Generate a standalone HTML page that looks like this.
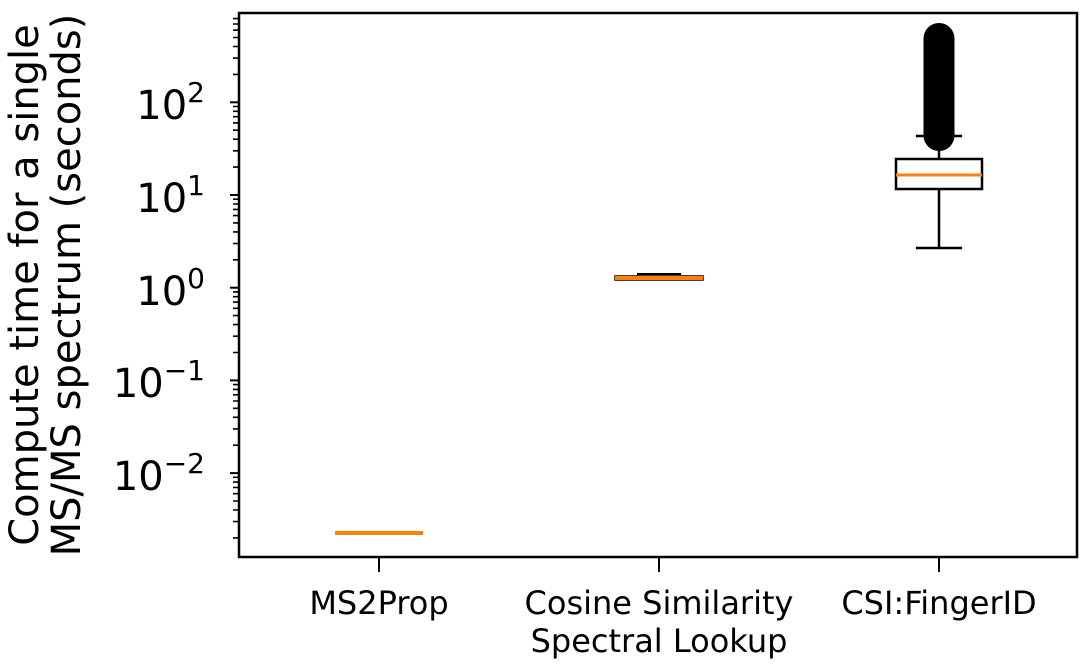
<!DOCTYPE html>
<html><head><meta charset="utf-8"><style>
body{margin:0;background:#fff}
text{font-family:"DejaVu Sans","Liberation Sans",sans-serif;fill:#000}
</style></head><body>
<svg width="1082" height="662" viewBox="0 0 1082 662" xmlns="http://www.w3.org/2000/svg">
<path stroke="#000" stroke-width="1.6" d="
M233 537.9H239M233 521.6H239M233 510H239M233 501H239M233 493.7H239M233 487.5H239M233 482.1H239M233 477.3H239
M233 445.2H239M233 428.9H239M233 417.3H239M233 408.3H239M233 401H239M233 394.8H239M233 389.4H239M233 384.6H239
M233 352.5H239M233 336.2H239M233 324.6H239M233 315.6H239M233 308.3H239M233 302.1H239M233 296.7H239M233 291.9H239
M233 259.8H239M233 243.5H239M233 231.9H239M233 222.9H239M233 215.6H239M233 209.4H239M233 204H239M233 199.2H239
M233 167.1H239M233 150.8H239M233 139.2H239M233 130.2H239M233 122.9H239M233 116.7H239M233 111.3H239M233 106.5H239
M233 74.4H239M233 58.1H239M233 46.5H239M233 37.5H239M233 30.2H239M233 24H239M233 18.6H239"/>
<g stroke="#000" stroke-width="2">
<line x1="230" y1="102.3" x2="239" y2="102.3"/>
<line x1="230" y1="195" x2="239" y2="195"/>
<line x1="230" y1="287.7" x2="239" y2="287.7"/>
<line x1="230" y1="380.4" x2="239" y2="380.4"/>
<line x1="230" y1="473.1" x2="239" y2="473.1"/>
<line x1="379" y1="557" x2="379" y2="572"/>
<line x1="659" y1="557" x2="659" y2="572"/>
<line x1="939" y1="557" x2="939" y2="572"/>
</g>
<g font-size="40" text-anchor="end">
<text x="205" y="119">10<tspan font-size="28" dy="-17">2</tspan></text>
<text x="205" y="212">10<tspan font-size="28" dy="-17">1</tspan></text>
<text x="205" y="305">10<tspan font-size="28" dy="-17">0</tspan></text>
<text x="205" y="397">10<tspan font-size="28" dy="-17">−1</tspan></text>
<text x="205" y="490">10<tspan font-size="28" dy="-17">−2</tspan></text>
</g>
<g font-size="32" text-anchor="middle">
<text x="379" y="614">MS2Prop</text>
<text x="659" y="614">Cosine Similarity</text>
<text x="659" y="652">Spectral Lookup</text>
<text x="939" y="614">CSI:FingerID</text>
</g>
<g font-size="40" text-anchor="middle">
<text transform="translate(38,285) rotate(-90)">Compute time for a single</text>
<text transform="translate(80,285) rotate(-90)">MS/MS spectrum (seconds)</text>
</g>
<line x1="335" y1="533" x2="423" y2="533" stroke="#ff7f0e" stroke-width="4"/>
<line x1="637" y1="274" x2="681" y2="274" stroke="#000" stroke-width="2"/>
<rect x="615" y="276" width="88" height="4" fill="none" stroke="#000" stroke-width="1.5"/>
<line x1="615" y1="278" x2="703" y2="278" stroke="#ff7f0e" stroke-width="4"/>
<g stroke="#000" stroke-width="2.5" fill="none">
<line x1="939" y1="189" x2="939" y2="248"/>
<line x1="916" y1="248" x2="962" y2="248"/>
<line x1="939" y1="159" x2="939" y2="136"/>
<line x1="916" y1="136" x2="962" y2="136"/>
<rect x="896" y="159" width="86" height="30"/>
</g>
<line x1="896" y1="175" x2="982" y2="175" stroke="#ff7f0e" stroke-width="3"/>
<rect x="923.5" y="23" width="31" height="128" rx="15.5" fill="#000"/>
<rect x="239" y="13" width="838" height="544" fill="none" stroke="#000" stroke-width="2.5"/>
</svg>
</body></html>
